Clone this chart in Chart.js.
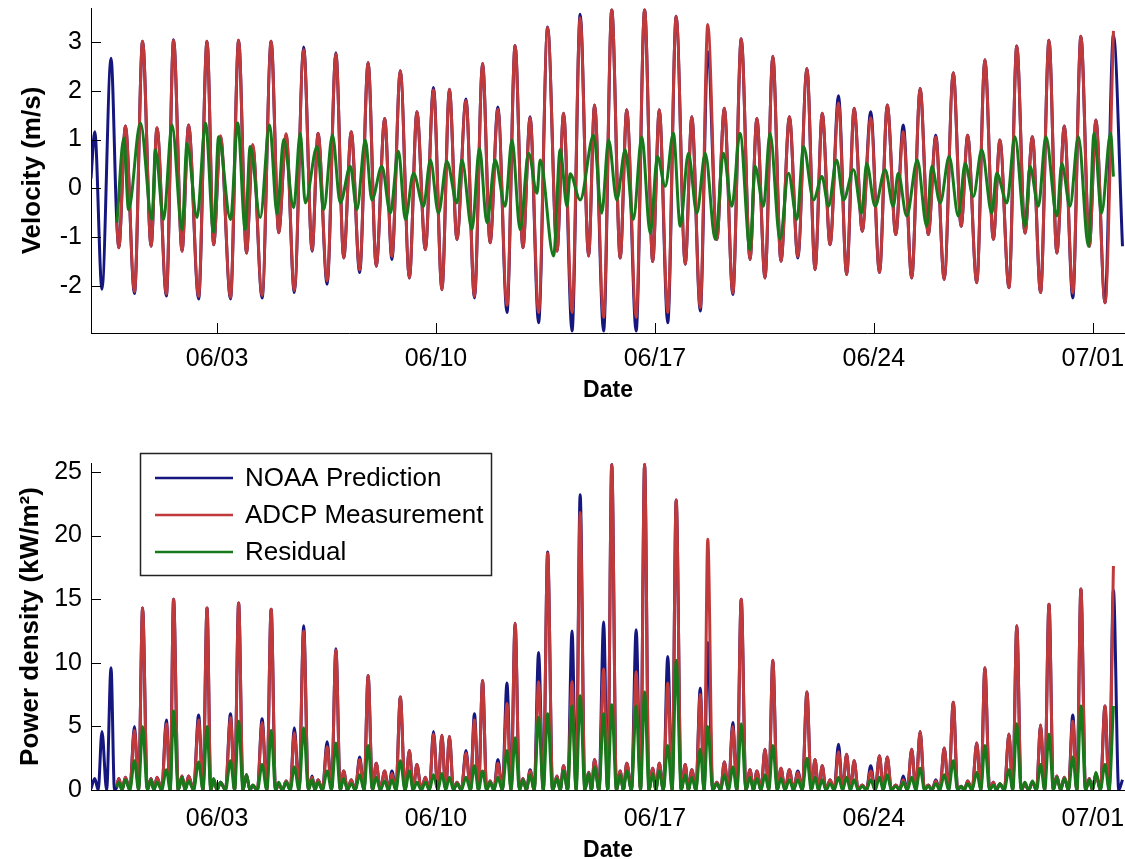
<!DOCTYPE html>
<html lang="en">
<head>
    <meta charset="UTF-8">
    <title>Tidal Velocity and Power Density</title>
    <script src="https://cdn.jsdelivr.net/npm/chart.js"></script>
    <style>
        body {
            margin: 0;
            background: #fff;
            width: 1125px;
            height: 859px;
            overflow: hidden;
            position: relative;
        }
        .panel {
            position: absolute;
            left: 0;
        }
    </style>
</head>
<body>

    <div class="panel" style="top:0px"><canvas id="velocityChart" width="1125" height="420"></canvas></div>
    <div class="panel" style="top:430px"><canvas id="powerChart" width="1125" height="440"></canvas></div>

    <script>
        // x values are days after 05/30 00:00
        const tickDays = [4, 11, 18, 25, 32];
        const tickLabels = ['06/03', '06/10', '06/17', '06/24', '07/01'];
        const velocityTicks = [-2, -1, 0, 1, 2, 3];
        const powerTicks = [0, 5, 10, 15, 20, 25];

        // times of the tidal highs and lows (plus series start/end)
        const extremaDays = [
            -0.03, 0.09, 0.32, 0.61, 0.79, 0.86, 1.07, 1.36, 1.62, 1.89,
            2.08, 2.38, 2.61, 2.88, 3.09, 3.41, 3.68, 3.89, 4.11, 4.43,
            4.69, 4.94, 5.14, 5.44, 5.73, 5.97, 6.21, 6.47, 6.77, 7.04,
            7.23, 7.52, 7.80, 8.05, 8.29, 8.56, 8.83, 9.09, 9.36, 9.59,
            9.86, 10.15, 10.39, 10.66, 10.92, 11.19, 11.43, 11.67, 11.96, 12.23,
            12.49, 12.73, 12.98, 13.27, 13.53, 13.78, 14.01, 14.28, 14.57, 14.87,
            15.08, 15.35, 15.61, 15.88, 16.07, 16.36, 16.62, 16.89, 17.10, 17.40,
            17.67, 17.93, 18.14, 18.41, 18.68, 18.97, 19.18, 19.45, 19.69, 19.98,
            20.22, 20.49, 20.76, 21.04, 21.26, 21.52, 21.77, 22.03, 22.30, 22.57,
            22.86, 23.12, 23.35, 23.60, 23.87, 24.13, 24.37, 24.63, 24.90, 25.18,
            25.43, 25.70, 25.94, 26.21, 26.48, 26.74, 26.98, 27.25, 27.54, 27.79,
            28.00, 28.29, 28.55, 28.82, 29.03, 29.32, 29.57, 29.83, 30.07, 30.33,
            30.60, 30.85, 31.09, 31.36, 31.62, 31.89, 32.10, 32.39, 32.66, 32.95
        ];

        // velocity (m/s) at those times
        const noaaVelocity = [
            0.20, 1.16, -2.07, 2.67, -0.62, -1.22, 1.28, -2.16, 3.02, -1.19,
            1.23, -2.21, 3.05, -1.29, 1.30, -2.27, 3.02, -1.16, 1.06, -2.27,
            3.04, -1.33, 0.86, -2.25, 3.02, -0.91, 1.09, -2.14, 2.90, -1.29,
            1.13, -1.97, 2.78, -1.43, 1.16, -1.73, 2.58, -1.60, 1.43, -1.46,
            2.41, -1.84, 1.57, -1.26, 2.07, -2.08, 2.03, -1.05, 1.83, -2.25,
            2.56, -1.12, 1.67, -2.55, 2.93, -1.22, 1.47, -2.76, 3.31, -1.29,
            1.54, -2.93, 3.57, -1.39, 1.71, -2.93, 3.66, -1.43, 1.61, -2.93,
            3.66, -1.50, 1.61, -2.76, 3.53, -1.56, 1.47, -2.52, 2.80, -1.05,
            1.64, -2.18, 3.07, -1.46, 1.43, -1.84, 2.71, -1.50, 1.47, -1.43,
            2.46, -1.67, 1.54, -1.16, 1.90, -1.77, 1.64, -0.88, 1.57, -1.73,
            1.71, -0.95, 1.30, -1.84, 2.05, -0.95, 1.09, -1.87, 2.37, -0.78,
            1.09, -1.94, 2.64, -1.05, 0.99, -2.04, 2.92, -0.92, 1.06, -2.14,
            3.04, -1.33, 1.28, -2.25, 3.12, -1.19, 1.40, -2.35, 3.15, -1.19
        ];
        const adcpVelocity = [
            null, null, null, null, -0.70, -1.22, 1.28, -2.12, 3.02, -1.19,
            1.25, -2.17, 3.04, -1.29, 1.30, -2.22, 3.02, -1.16, 1.08, -2.24,
            3.04, -1.33, 0.90, -2.20, 3.02, -0.91, 1.12, -2.10, 2.85, -1.27,
            1.13, -1.90, 2.76, -1.43, 1.16, -1.68, 2.58, -1.60, 1.43, -1.40,
            2.41, -1.84, 1.57, -1.26, 2.02, -2.08, 2.03, -1.05, 1.80, -2.22,
            2.56, -1.12, 1.62, -2.40, 2.93, -1.22, 1.45, -2.55, 3.30, -1.29,
            1.54, -2.55, 3.50, -1.39, 1.71, -2.65, 3.66, -1.43, 1.61, -2.65,
            3.66, -1.50, 1.61, -2.55, 3.53, -1.56, 1.47, -2.45, 3.36, -1.05,
            1.64, -2.15, 3.07, -1.46, 1.43, -1.84, 2.71, -1.50, 1.47, -1.40,
            2.46, -1.67, 1.54, -1.16, 1.75, -1.77, 1.64, -0.88, 1.45, -1.73,
            1.71, -0.95, 1.16, -1.84, 2.05, -0.95, 1.05, -1.87, 2.37, -0.78,
            1.09, -1.94, 2.64, -1.05, 0.99, -2.04, 2.92, -0.92, 1.06, -2.14,
            3.04, -1.33, 1.28, -2.15, 3.12, -1.19, 1.40, -2.35, 3.23, null
        ];

        // power density (kW/m^2) at the same times
        const noaaPower = [
            0.1, 0.9, 4.6, 9.6, 0.2, 0.9, 1.0, 5.0, 14.3, 0.9,
            1.0, 5.5, 15.0, 1.1, 1.1, 5.9, 14.3, 0.8, 0.6, 6.0,
            14.7, 1.2, 0.3, 5.6, 14.2, 0.4, 0.7, 4.9, 12.9, 1.1,
            0.8, 3.8, 11.1, 1.5, 0.8, 2.6, 9.0, 2.1, 1.5, 1.5,
            7.3, 3.1, 2.0, 1.0, 4.6, 4.3, 4.2, 0.6, 3.1, 6.0,
            8.6, 0.7, 2.4, 8.4, 13.1, 0.9, 1.6, 10.8, 18.7, 1.1,
            1.9, 12.5, 23.2, 1.4, 2.4, 13.2, 25.6, 1.5, 2.1, 12.6,
            25.6, 1.7, 2.1, 10.5, 22.8, 2.0, 1.6, 8.0, 11.6, 0.6,
            2.2, 5.3, 15.0, 1.6, 1.5, 3.2, 10.2, 1.7, 1.6, 1.5,
            7.7, 2.4, 1.9, 0.8, 3.6, 2.8, 2.3, 0.4, 1.9, 2.7,
            2.6, 0.4, 1.1, 3.2, 4.6, 0.4, 0.8, 3.3, 6.9, 0.3,
            0.7, 3.7, 9.6, 0.6, 0.5, 4.4, 12.9, 0.4, 0.6, 5.1,
            14.6, 1.1, 1.0, 5.9, 15.8, 0.9, 1.3, 6.6, 15.7, 0.8
        ];
        const adcpPower = [
            null, null, null, null, 0.3, 0.9, 1.0, 4.7, 14.3, 0.9,
            1.0, 5.2, 15.0, 1.1, 1.1, 5.5, 14.3, 0.8, 0.6, 5.7,
            14.7, 1.2, 0.4, 5.3, 14.2, 0.4, 0.7, 4.5, 12.5, 1.0,
            0.8, 3.4, 11.0, 1.5, 0.8, 2.4, 9.0, 2.1, 1.5, 1.3,
            7.3, 3.1, 2.0, 1.0, 4.4, 4.3, 4.2, 0.6, 2.9, 5.5,
            8.6, 0.7, 2.1, 6.8, 13.1, 0.9, 1.5, 8.5, 18.6, 1.1,
            1.9, 8.5, 21.8, 1.4, 2.4, 9.5, 25.6, 1.5, 2.1, 9.3,
            25.6, 1.7, 2.1, 8.4, 22.8, 2.0, 1.6, 7.5, 19.7, 0.6,
            2.2, 5.0, 15.0, 1.6, 1.5, 3.2, 10.2, 1.7, 1.6, 1.4,
            7.7, 2.4, 1.9, 0.8, 3.0, 2.8, 2.3, 0.4, 1.5, 2.7,
            2.6, 0.4, 0.8, 3.2, 4.6, 0.4, 0.7, 3.3, 6.9, 0.3,
            0.7, 3.7, 9.6, 0.6, 0.5, 4.4, 12.9, 0.4, 0.6, 5.1,
            14.6, 1.1, 1.0, 5.4, 15.8, 0.9, 1.3, 6.6, 17.6, null
        ];
        const residualPower = [
            null, null, null, null, 0.2, 0.6, 0.8, 2.3, 5.0, 0.8,
            0.6, 1.6, 6.2, 1.0, 0.7, 2.2, 5.0, 0.9, 0.6, 2.3,
            5.4, 1.2, 0.4, 2.0, 4.7, 0.6, 0.6, 1.8, 4.9, 0.8,
            0.6, 1.5, 3.7, 0.9, 0.5, 1.2, 3.5, 1.0, 0.7, 0.8,
            2.3, 1.5, 0.6, 0.6, 1.2, 1.3, 1.0, 0.5, 1.0, 1.9,
            1.5, 0.6, 1.0, 3.1, 4.1, 0.8, 1.2, 5.7, 6.0, 0.9,
            1.5, 6.6, 7.4, 1.3, 1.8, 6.0, 6.7, 1.2, 1.5, 6.6,
            7.7, 1.3, 1.5, 3.5, 10.2, 1.2, 1.0, 3.2, 5.0, 0.5,
            1.2, 1.8, 5.2, 1.0, 0.9, 1.2, 3.5, 0.9, 0.8, 0.8,
            2.5, 1.0, 0.8, 0.5, 1.0, 1.0, 0.8, 0.3, 0.8, 1.0,
            1.2, 0.3, 0.6, 1.0, 1.7, 0.3, 0.5, 1.2, 2.3, 0.3,
            0.5, 1.4, 3.5, 0.4, 0.5, 1.6, 5.2, 0.6, 0.7, 2.0,
            4.4, 1.0, 0.9, 2.6, 6.6, 0.8, 1.4, 2.0, 6.6, null
        ];

        // slack water: power density drops to zero here
        const crossingDays = [
            0.20, 0.47, 0.72, 0.96, 1.21, 1.49, 1.77, 1.98, 2.23, 2.50,
            2.76, 2.98, 3.25, 3.55, 3.80, 4.00, 4.27, 4.56, 4.83, 5.05,
            5.29, 5.59, 5.87, 6.09, 6.34, 6.62, 6.92, 7.13, 7.37, 7.66,
            7.94, 8.17, 8.42, 8.70, 8.97, 9.22, 9.48, 9.72, 10.01, 10.27,
            10.53, 10.79, 11.06, 11.31, 11.56, 11.81, 12.10, 12.36, 12.62, 12.85,
            13.12, 13.40, 13.67, 13.89, 14.14, 14.43, 14.73, 14.97, 15.21, 15.48,
            15.76, 15.97, 16.21, 16.49, 16.77, 16.99, 17.25, 17.54, 17.81, 18.03,
            18.27, 18.55, 18.84, 19.07, 19.31, 19.57, 19.85, 20.10, 20.35, 20.62,
            20.91, 21.15, 21.39, 21.64, 21.91, 22.16, 22.43, 22.71, 23.00, 23.23,
            23.47, 23.73, 24.00, 24.25, 24.50, 24.76, 25.04, 25.30, 25.56, 25.82,
            26.07, 26.34, 26.62, 26.86, 27.11, 27.39, 27.68, 27.89, 28.14, 28.42,
            28.70, 28.92, 29.17, 29.44, 29.71, 29.95, 30.20, 30.46, 30.74, 30.97,
            31.22, 31.49, 31.77, 31.99, 32.24, 32.52, 32.83
        ];

        // residual velocity has its own turning points
        const residualDays = [
            0.80, 1.02, 1.17, 1.55, 1.92, 2.03, 2.29, 2.56, 2.88, 3.04,
            3.36, 3.63, 3.89, 4.05, 4.43, 4.66, 4.90, 5.06, 5.38, 5.68,
            5.92, 6.13, 6.45, 6.66, 6.82, 7.20, 7.41, 7.69, 7.94, 8.26,
            8.47, 8.74, 8.95, 9.27, 9.54, 9.80, 10.02, 10.28, 10.60, 10.82,
            11.08, 11.35, 11.67, 11.83, 12.15, 12.39, 12.63, 12.89, 13.21, 13.43,
            13.69, 13.96, 14.23, 14.33, 14.76, 14.97, 15.19, 15.29, 15.61, 16.04,
            16.30, 16.52, 16.78, 17.05, 17.31, 17.58, 17.85, 18.08, 18.33, 18.59,
            18.81, 19.07, 19.34, 19.61, 19.93, 20.19, 20.46, 20.72, 21.04, 21.20,
            21.47, 21.68, 22.00, 22.27, 22.54, 22.75, 23.07, 23.34, 23.55, 23.81,
            24.03, 24.35, 24.61, 24.77, 25.04, 25.36, 25.62, 25.78, 26.05, 26.39,
            26.69, 26.85, 27.12, 27.41, 27.70, 27.92, 28.18, 28.45, 28.77, 28.93,
            29.25, 29.51, 29.83, 29.99, 30.26, 30.50, 30.85, 31.01, 31.27, 31.54,
            31.86, 32.04, 32.28, 32.57, 32.66
        ];
        const residualVelocity = [
            -0.70, 1.03, -0.44, 1.34, -0.64, 0.79, -0.64, 1.30, -0.85, 0.92,
            -0.60, 1.34, -0.90, 1.06, -0.64, 1.34, -0.85, 0.86, -0.60, 1.30,
            -0.53, 1.00, -0.40, 1.13, -0.30, 0.86, -0.44, 1.09, -0.30, 0.45,
            -0.44, 0.99, -0.24, 0.45, -0.51, 0.76, -0.64, 0.31, -0.37, 0.58,
            -0.51, 0.55, -0.30, 0.58, -0.85, 0.82, -0.71, 0.58, -0.37, 0.99,
            -0.85, 0.72, -0.10, 0.58, -1.39, 0.79, -0.37, 0.30, -0.24, 1.09,
            -0.51, 0.99, -0.24, 0.79, -0.64, 1.06, -0.92, 0.65, 0.04, 1.13,
            -0.78, 0.72, -0.51, 0.72, -1.05, 0.72, -0.37, 1.13, -1.26, 0.45,
            -0.37, 1.13, -1.05, 0.31, -0.64, 0.86, -0.24, 0.24, -0.37, 0.58,
            -0.24, 0.38, -0.51, 0.51, -0.37, 0.38, -0.37, 0.31, -0.57, 0.58,
            -0.78, 0.45, -0.30, 0.65, -0.57, 0.51, -0.17, 0.79, -0.51, 0.31,
            -0.30, 1.06, -0.78, 0.45, -0.37, 1.06, -0.57, 0.51, -0.37, 1.06,
            -1.19, 1.13, -0.51, 1.13, 0.24
        ];

        const NOAA_COLOR = '#16167f';
        const ADCP_COLOR = '#c03a3c';
        const RESID_COLOR = '#17791a';
        const FONT = '"Liberation Sans", Arial, sans-serif';

        Chart.defaults.font.family = FONT;
        Chart.defaults.color = '#000';

        function toPoints(days, vals) {
            return days.map((d, i) => ({ x: d, y: vals[i] })).filter(p => p.y !== null);
        }

        // power curves: turning-point values plus zeros at slack water
        function powerPoints(vals) {
            const pts = toPoints(extremaDays, vals);
            const first = pts[0].x, last = pts[pts.length - 1].x;
            crossingDays.filter(d => d > first && d < last).forEach(d => pts.push({ x: d, y: 0 }));
            return pts.sort((a, b) => a.x - b.x);
        }

        function lineSet(label, data, color, order) {
            return {
                label: label,
                data: data,
                borderColor: color,
                backgroundColor: color,
                borderWidth: 3,
                pointRadius: 0,
                fill: false,
                cubicInterpolationMode: 'monotone',
                borderJoinStyle: 'round',
                order: order
            };
        }

        // MATLAB-style tick marks pointing into the plot
        const inwardTicks = {
            id: 'inwardTicks',
            afterDatasetsDraw(chart) {
                const { ctx, chartArea: a, scales: { x, y } } = chart;
                ctx.save();
                ctx.strokeStyle = '#000';
                ctx.lineWidth = 1;
                ctx.beginPath();
                x.ticks.forEach(t => {
                    const px = Math.round(x.getPixelForValue(t.value)) + 0.5;
                    ctx.moveTo(px, a.bottom);
                    ctx.lineTo(px, a.bottom - 10);
                });
                y.ticks.forEach(t => {
                    const py = Math.round(y.getPixelForValue(t.value)) + 0.5;
                    ctx.moveTo(a.left, py);
                    ctx.lineTo(a.left + 10, py);
                });
                ctx.stroke();
                ctx.restore();
            }
        };

        // boxed legend in the upper left of the power panel
        const boxLegend = {
            id: 'boxLegend',
            afterDraw(chart) {
                const ctx = chart.ctx;
                const sets = chart.data.datasets;
                ctx.save();
                ctx.fillStyle = '#fff';
                ctx.fillRect(140, 23, 351, 122);
                ctx.strokeStyle = '#222';
                ctx.lineWidth = 1.5;
                ctx.strokeRect(140.5, 23.5, 351, 122);
                ctx.font = '26px ' + FONT;
                ctx.textBaseline = 'middle';
                sets.forEach((ds, i) => {
                    const yy = 48 + i * 37;
                    ctx.strokeStyle = ds.borderColor;
                    ctx.lineWidth = 2.5;
                    ctx.beginPath();
                    ctx.moveTo(155, yy);
                    ctx.lineTo(233, yy);
                    ctx.stroke();
                    ctx.fillStyle = '#000';
                    ctx.fillText(ds.label, 245, yy + 1);
                });
                ctx.restore();
            }
        };

        function axisOptions(yMin, yMax, yTicks, yTitle, yTitlePad, tickPad, xTitlePad, xHeight) {
            return {
                x: {
                    type: 'linear',
                    min: -0.03,
                    max: 33.03,
                    afterBuildTicks: s => { s.ticks = tickDays.map(v => ({ value: v })); },
                    afterFit: s => { s.height = xHeight; s.paddingLeft = 0; s.paddingRight = 0; },
                    grid: { display: false, drawTicks: false },
                    border: { display: true, color: '#000', width: 1 },
                    ticks: {
                        autoSkip: false,
                        maxRotation: 0,
                        padding: tickPad,
                        font: { size: 25 },
                        callback: v => tickLabels[tickDays.indexOf(v)]
                    },
                    title: {
                        display: true,
                        text: 'Date',
                        font: { size: 23, weight: 'bold' },
                        padding: { top: 0, bottom: xTitlePad }
                    }
                },
                y: {
                    min: yMin,
                    max: yMax,
                    afterBuildTicks: s => { s.ticks = yTicks.map(v => ({ value: v })); },
                    afterFit: s => { s.width = 91; s.paddingTop = 0; s.paddingBottom = 0; },
                    grid: { display: false, drawTicks: false },
                    border: { display: true, color: '#000', width: 1 },
                    ticks: {
                        padding: 9,
                        font: { size: 25 },
                        callback: v => String(v)
                    },
                    title: {
                        display: true,
                        text: yTitle,
                        font: { size: 26, weight: 'bold' },
                        padding: { top: yTitlePad, bottom: 0 }
                    }
                }
            };
        }

        const baseOptions = {
            responsive: false,
            animation: false,
            events: [],
            plugins: { legend: { display: false }, tooltip: { enabled: false } }
        };

        new Chart(document.getElementById('velocityChart'), {
            type: 'line',
            data: {
                datasets: [
                    lineSet('NOAA Prediction', toPoints(extremaDays, noaaVelocity), NOAA_COLOR, 3),
                    lineSet('ADCP Measurement', toPoints(extremaDays, adcpVelocity), ADCP_COLOR, 2),
                    lineSet('Residual', toPoints(residualDays, residualVelocity), RESID_COLOR, 1)
                ]
            },
            options: Object.assign({}, baseOptions, {
                layout: { padding: { top: 8, left: 0, right: 0, bottom: 0 } },
                scales: axisOptions(-2.97, 3.70, velocityTicks, 'Velocity (m/s)', 17, 11, 16, 87)
            }),
            plugins: [inwardTicks]
        });

        new Chart(document.getElementById('powerChart'), {
            type: 'line',
            data: {
                datasets: [
                    lineSet('NOAA Prediction', powerPoints(noaaPower), NOAA_COLOR, 3),
                    lineSet('ADCP Measurement', powerPoints(adcpPower), ADCP_COLOR, 2),
                    lineSet('Residual', powerPoints(residualPower), RESID_COLOR, 1)
                ]
            },
            options: Object.assign({}, baseOptions, {
                layout: { padding: { top: 33, left: 0, right: 0, bottom: 0 } },
                scales: axisOptions(0, 25.7, powerTicks, 'Power density (kW/m²)', 15, 14, 6, 80)
            }),
            plugins: [inwardTicks, boxLegend]
        });
    </script>

</body>
</html>
